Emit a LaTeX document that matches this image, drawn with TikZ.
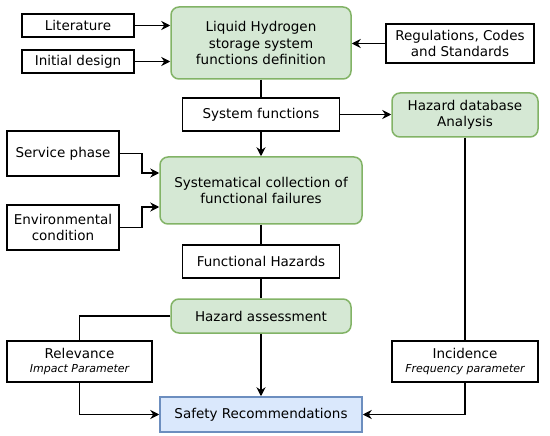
\documentclass[tikz,border=0pt]{standalone}
\usepackage{fontspec}
\setmainfont{DejaVu Sans}
\usetikzlibrary{arrows.meta}
\definecolor{gfill}{HTML}{D5E8D4}
\definecolor{gdraw}{HTML}{82B366}
\definecolor{bfill}{HTML}{DAE8FC}
\definecolor{bdraw}{HTML}{6C8EBF}
\tikzset{
  base/.style={inner sep=0pt, align=center, font=\fontsize{13.5}{16.5}\selectfont, line width=1.5pt},
  wbox/.style={base, draw=black, fill=white},
  gbox/.style={base, draw=gdraw, fill=gfill, rounded corners=8pt},
  bbox/.style={base, draw=bdraw, fill=bfill},
  arr/.style={line width=1.5pt, -{Stealth[length=9pt,width=9pt,inset=3pt]}},
  ln/.style={line width=1.5pt},
}
\begin{document}
\begin{tikzpicture}[x=1pt,y=-1pt]
\useasboundingbox (0,0) rectangle (550,436);
\node[wbox, minimum width=112pt, minimum height=23pt] (lit) at (78,25.5) {Literature};
\node[wbox, minimum width=112pt, minimum height=23pt] (init) at (78,61.5) {Initial design};
\node[gbox, minimum width=180pt, minimum height=72pt] (lh) at (261,43) {Liquid Hydrogen\\storage system\\functions definition};
\node[wbox, minimum width=148pt, minimum height=39pt] (reg) at (460,43.5) {Regulations, Codes\\and Standards};
\node[wbox, minimum width=157pt, minimum height=33pt] (sf) at (261,114.5) {System functions};
\node[gbox, minimum width=146pt, minimum height=44pt] (hda) at (465,115) {Hazard database\\Analysis};
\node[wbox, minimum width=112pt, minimum height=45pt] (sp) at (63,153.5) {Service phase};
\node[wbox, minimum width=112pt, minimum height=45pt] (env) at (63,227.5) {Environmental\\condition};
\node[gbox, minimum width=202pt, minimum height=67pt] (sys) at (261,190.5) {Systematical collection of\\functional failures};
\node[wbox, minimum width=157pt, minimum height=33pt] (fh) at (261,261.5) {Functional Hazards};
\node[gbox, minimum width=180pt, minimum height=34pt] (ha) at (261,316) {Hazard assessment};
\node[wbox, minimum width=145pt, minimum height=41pt] (rel) at (79.5,361.5) {Relevance\\[-2pt]{\fontsize{11}{13}\selectfont\itshape Impact Parameter}};
\node[wbox, minimum width=146pt, minimum height=41pt] (inc) at (465,361.5) {Incidence\\[-2pt]{\fontsize{11}{13}\selectfont\itshape Frequency parameter}};
\node[bbox, minimum width=202pt, minimum height=35pt] (safe) at (261,414.5) {Safety Recommendations};

\draw[arr] (lit.east) -- (lit.east -| lh.west);
\draw[arr] (init.east) -- (init.east -| lh.west);
\draw[arr] (reg.west) -- (reg.west -| lh.east);
\draw[ln] (lh.south) -- (sf.north);
\draw[arr] (sf.south) -- (sys.north);
\draw[arr] (sf.east) -- (sf.east -| hda.west);
\draw[arr] (sp.east) -- ++(22,0) |- ([yshift=17.5pt]sys.west);
\draw[arr] (env.east) -- ++(22,0) |- ([yshift=-16.5pt]sys.west);
\draw[ln] (sys.south) -- (fh.north);
\draw[ln] (fh.south) -- (ha.north);
\draw[arr] (ha.south) -- (safe.north);
\draw[ln] (ha.west) -| (rel.north);
\draw[arr] (rel.south) |- (safe.west);
\draw[ln] (hda.south) -- (inc.north);
\draw[arr] (inc.south) |- (safe.east);
\end{tikzpicture}
\end{document}
